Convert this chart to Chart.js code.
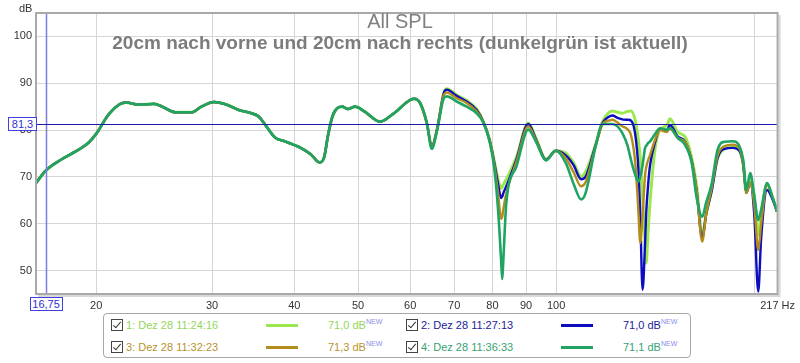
<!DOCTYPE html>
<html>
<head>
<meta charset="utf-8">
<script src="https://cdn.jsdelivr.net/npm/chart.js@4"></script>
<style>
  body { margin:0; background:#fff; font-family:"Liberation Sans", Arial, sans-serif; }
  #wrap { position:relative; width:800px; height:363px; overflow:hidden; }
  canvas { position:absolute; left:0; top:0; }
  .ttl { position:absolute; left:0; width:800px; text-align:center; color:#808080; white-space:nowrap; }
  #t1 { top:11px; font-size:20px; line-height:20px; }
  #t2 { top:33px; font-size:19px; line-height:19px; font-weight:bold; color:#7c7c7c; }
  #db { position:absolute; left:19px; top:2px; font-size:11px; line-height:13px; color:#333; }
  .cur { position:absolute; font-size:11px; line-height:12px; color:#3030d0; border:1px solid #4040e0; background:#fff; padding:0 1px; text-align:center; }
  #legend { position:absolute; left:103px; top:313px; width:586px; height:43px; border:1px solid #a8a8a8; border-radius:4px; background:#fff; }
  .cb { position:absolute; width:10px; height:10px; border:1px solid #444; background:#fff; }
  .cb::after { content:""; position:absolute; left:3px; top:0px; width:3px; height:7px; border:solid #333; border-width:0 1.5px 1.5px 0; transform:rotate(40deg); }
  .lt { position:absolute; font-size:11px; line-height:12px; white-space:nowrap; }
  .ln { position:absolute; width:32px; height:3px; }
  .lt sup { font-size:7px; color:#8c8ce8; vertical-align:top; position:relative; top:-3px; }
</style>
</head>
<body>
<div id="wrap">
  <canvas id="c" width="800" height="363"></canvas>
  <div class="ttl" id="t1">All SPL</div>
  <div class="ttl" id="t2">20cm nach vorne und 20cm nach rechts (dunkelgrün ist aktuell)</div>
  <div id="db">dB</div>
  <div class="cur" id="curX"></div>
  <div class="cur" id="curY"></div>
  <div id="legend"></div>
</div>
<script>
// ---- data (frequency in Hz, level in dB) ----
const freqs = [16.2,16.75,17.6,18.9,19.5,20.0,20.9,21.7,22.2,23.2,24.5,25.2,26.4,27.9,28.9,30.2,31.6,32.9,34.4,35.3,
  36.1,37.4,38.7,40.9,42.4,43.7,44.4,45.0,45.7,46.5,47.3,48.2,49.5,51.1,54.0,56.7,60.8,62.1,63.6,64.7,
  65.9,67.5,68.2,70.6,73.1,75.7,77.5,79.2,80.5,81.6,82.5,82.8,83.1,84.0,87.0,90.7,93.2,96.5,99.9,103.4,
  106.3,109.1,110.8,114.8,117.6,120.1,121.8,123.9,126.0,128.3,130.0,131.9,133.3,134.2,135.3,136.5,137.0,137.9,138.9,141.4,
  143.8,147.3,148.9,153.1,156.9,160.7,163.5,166.7,169.0,172.3,175.9,180.3,185.4,190.0,192.5,194.5,197.2,200.0,202.8,204.9,
  209.2,212.8,216.6];

const spl1 = [68.7,71.3,73.5,76.0,77.4,79.2,83.4,85.5,85.9,85.4,85.6,85.0,83.8,83.8,85.0,86.0,85.4,84.3,83.6,82.9,
  81.2,78.4,77.6,76.2,74.8,73.1,74.2,78.8,82.9,84.7,85.0,84.5,85.0,84.0,81.8,83.6,86.7,85.8,81.5,76.6,
  80.1,88.0,88.8,87.5,86.3,84.5,81.8,78.0,73.5,69.5,67.6,67.8,68.3,69.5,74.2,81.5,78.2,73.8,75.6,75.1,
  73.0,70.1,71.0,77.0,81.8,83.7,84.1,83.8,83.6,84.0,84.1,82.0,78.0,74.0,66.0,56.0,51.6,58.0,64.7,76.2,
  80.1,81.0,82.4,79.5,78.6,74.0,68.0,57.6,62.0,67.2,74.0,76.0,76.5,75.5,72.5,66.6,69.5,66.0,57.6,62.0,
  68.5,66.0,62.6];

const spl2 = [68.7,71.3,73.5,76.0,77.4,79.2,83.4,85.5,85.9,85.4,85.6,85.0,83.8,83.8,85.0,86.0,85.4,84.3,83.6,82.9,
  81.2,78.4,77.6,76.2,74.8,73.1,74.2,78.8,82.9,84.7,85.0,84.5,85.0,84.0,81.8,83.6,86.7,85.8,81.5,76.5,
  80.1,87.9,88.6,87.3,86.1,84.3,81.8,77.9,73.2,68.5,65.5,65.8,66.5,68.0,73.7,81.3,78.0,73.7,75.6,74.6,
  72.5,69.5,70.0,76.8,81.5,82.8,83.1,82.6,82.3,82.2,82.0,79.0,72.0,62.0,45.9,56.0,62.0,68.0,72.5,77.5,
  80.2,79.9,81.1,78.6,77.6,73.3,67.0,56.9,62.0,67.0,74.0,76.0,76.2,75.5,72.5,66.6,68.7,62.0,45.5,57.0,
  67.2,65.5,62.6];

const spl3 = [68.7,71.3,73.5,76.0,77.4,79.2,83.4,85.5,85.9,85.4,85.6,85.0,83.8,83.8,85.0,86.0,85.4,84.3,83.6,82.9,
  81.2,78.4,77.6,76.2,74.8,73.1,74.2,78.8,82.9,84.7,85.0,84.5,85.0,84.0,81.8,83.6,86.7,85.8,81.5,76.4,
  80.1,87.5,88.0,86.8,85.8,84.0,81.8,77.9,72.8,66.5,61.0,61.5,63.0,66.5,73.2,80.8,77.8,73.6,75.6,74.0,
  71.0,68.0,68.8,76.5,81.3,82.0,82.2,81.6,80.8,80.2,78.8,73.0,63.0,55.9,62.0,70.4,72.0,73.5,74.7,78.0,
  80.0,79.6,80.4,78.3,77.5,73.3,67.0,56.2,62.0,67.6,74.5,76.6,76.9,76.0,72.5,66.6,68.7,64.0,54.4,60.0,
  68.3,66.0,62.6];

const spl4 = [68.7,71.3,73.5,76.0,77.4,79.2,83.4,85.5,85.9,85.4,85.6,85.0,83.8,83.8,85.0,86.0,85.4,84.3,83.6,82.9,
  81.2,78.4,77.6,76.2,74.8,73.1,74.2,78.8,82.9,84.7,85.0,84.5,85.0,84.0,81.8,83.6,86.7,85.8,81.5,76.0,
  79.8,86.8,87.2,86.1,85.0,83.6,81.6,77.6,72.0,63.0,52.0,48.2,52.0,64.5,72.2,80.1,77.5,73.5,75.6,73.0,
  68.5,65.2,66.5,76.5,81.3,81.3,81.3,80.8,79.4,76.8,73.5,70.4,69.0,70.0,72.5,76.2,76.6,77.2,77.6,79.2,
  80.4,80.1,80.4,78.3,76.9,73.0,65.5,61.5,64.5,68.5,75.8,77.5,77.6,76.5,73.5,67.2,70.8,66.0,60.8,63.0,
  68.7,66.0,62.6];

const seriesNames = ["1: Dez 28 11:24:16","2: Dez 28 11:27:13","3: Dez 28 11:32:23","4: Dez 28 11:36:33"];
const seriesAvg = ["71,0 dB","71,0 dB","71,3 dB","71,1 dB"];
const seriesColors = ["#9be84e","#0c0cc0","#b48c1c","#1fa464"];
const seriesText = ["#92d65a","#22229a","#b8922e","#35a272"];

const yTicks = [50,60,70,80,90,100];
const xTicks = [20,30,40,50,60,70,80,90,100,200,217];
const xTickLabels = ["20","30","40","50","60","70","80","90","100","","217 Hz"];
const xMin = 16.2, xMax = 217, yMin = 45, yMax = 105;
const cursorFreq = 16.75, cursorLevel = 81.3;
const cursorFreqLabel = "16,75", cursorLevelLabel = "81,3";

// ---- build datasets ----
const allSpl = [spl1, spl2, spl3, spl4];
const drawOrder = [3, 2, 1, 0];       // green drawn on top
const widths = [3, 2.4, 2.4, 2.6];
const datasets = allSpl.map((arr, i) => ({
  label: seriesNames[i],
  data: freqs.map((f, k) => ({x: f, y: arr[k]})),
  borderColor: seriesColors[i],
  borderWidth: widths[i],
  pointRadius: 0,
  fill: false,
  cubicInterpolationMode: 'monotone',
  order: drawOrder[i]
}));

const frame = {
  id: 'frame',
  afterDatasetsDraw(chart) {
    const {ctx, chartArea: a, scales} = chart;
    ctx.save();
    const cx = Math.round(scales.x.getPixelForValue(cursorFreq)) + 0.5;
    const cy = Math.round(scales.y.getPixelForValue(cursorLevel)) + 0.5;
    ctx.lineWidth = 1.5;
    ctx.strokeStyle = '#7c7ce6';
    ctx.beginPath(); ctx.moveTo(cx, a.top); ctx.lineTo(cx, a.bottom); ctx.stroke();
    ctx.lineWidth = 1;
    ctx.strokeStyle = '#1c1ca8';
    ctx.beginPath(); ctx.moveTo(a.left, cy); ctx.lineTo(a.right, cy); ctx.stroke();
    ctx.strokeStyle = '#d8d8d8';
    ctx.lineWidth = 2;
    ctx.beginPath();
    ctx.moveTo(a.right + 2, a.top + 2); ctx.lineTo(a.right + 2, a.bottom + 2); ctx.lineTo(a.left + 2, a.bottom + 2);
    ctx.stroke();
    ctx.strokeStyle = '#a9a9a9';
    ctx.lineWidth = 2;
    ctx.strokeRect(a.left, a.top, a.right - a.left, a.bottom - a.top);
    ctx.restore();
  }
};

const chart = new Chart(document.getElementById('c'), {
  type: 'line',
  data: { datasets },
  plugins: [frame],
  options: {
    responsive: false,
    animation: false,
    devicePixelRatio: 1,
    layout: { padding: { top: 13, right: 17, left: 0, bottom: 0 } },
    plugins: { legend: { display: false }, tooltip: { enabled: false }, title: { display: false } },
    scales: {
      x: {
        type: 'logarithmic',
        min: xMin, max: xMax,
        afterBuildTicks(axis) { axis.ticks = xTicks.map(v => ({value: v})); },
        afterFit(axis) { axis.height = 69; },
        grid: { color: '#d6d6d6', lineWidth: 1, drawTicks: false },
        border: { display: false },
        ticks: {
          autoSkip: false, maxRotation: 0, padding: 5,
          color: '#333', font: { family: 'Liberation Sans', size: 11 },
          callback(value) { const i = xTicks.indexOf(value); return i >= 0 ? xTickLabels[i] : ''; }
        }
      },
      y: {
        type: 'linear',
        min: yMin, max: yMax,
        afterBuildTicks(axis) { axis.ticks = yTicks.map(v => ({value: v})); },
        afterFit(axis) { axis.width = 36; },
        grid: { color: '#d6d6d6', lineWidth: 1, drawTicks: false },
        border: { display: false },
        ticks: { padding: 4, color: '#333', font: { family: 'Liberation Sans', size: 11 } }
      }
    }
  }
});

(function () {
  const sx = chart.scales.x, sy = chart.scales.y;
  const bx = document.getElementById('curX');
  bx.textContent = cursorFreqLabel;
  const px = sx.getPixelForValue(cursorFreq);
  bx.style.left = (px - 16) + 'px'; bx.style.top = (chart.chartArea.bottom + 3) + 'px'; bx.style.width = '29px';
  const by = document.getElementById('curY');
  by.textContent = cursorLevelLabel;
  const py = sy.getPixelForValue(cursorLevel);
  by.style.left = '8px'; by.style.top = (py - 7) + 'px'; by.style.width = '25px';
})();

(function () {
  const lg = document.getElementById('legend');
  const cols = [0, 295], rows = [5, 27];
  seriesNames.forEach((name, i) => {
    const c = cols[i % 2], r = rows[Math.floor(i / 2)];
    const cb = document.createElement('div'); cb.className = 'cb';
    cb.style.left = (c + 7) + 'px'; cb.style.top = (r) + 'px'; lg.appendChild(cb);
    const t = document.createElement('div'); t.className = 'lt';
    t.style.left = (c + 22) + 'px'; t.style.top = (r) + 'px'; t.style.color = seriesText[i];
    t.textContent = name; lg.appendChild(t);
    const l = document.createElement('div'); l.className = 'ln';
    l.style.left = (c + 162) + 'px'; l.style.top = (r + 5) + 'px'; l.style.background = seriesColors[i];
    lg.appendChild(l);
    const v = document.createElement('div'); v.className = 'lt';
    v.style.left = (c + 224) + 'px'; v.style.top = (r) + 'px'; v.style.color = seriesText[i];
    v.innerHTML = seriesAvg[i] + '<sup>NEW</sup>'; lg.appendChild(v);
  });
})();
</script>
</body>
</html>
